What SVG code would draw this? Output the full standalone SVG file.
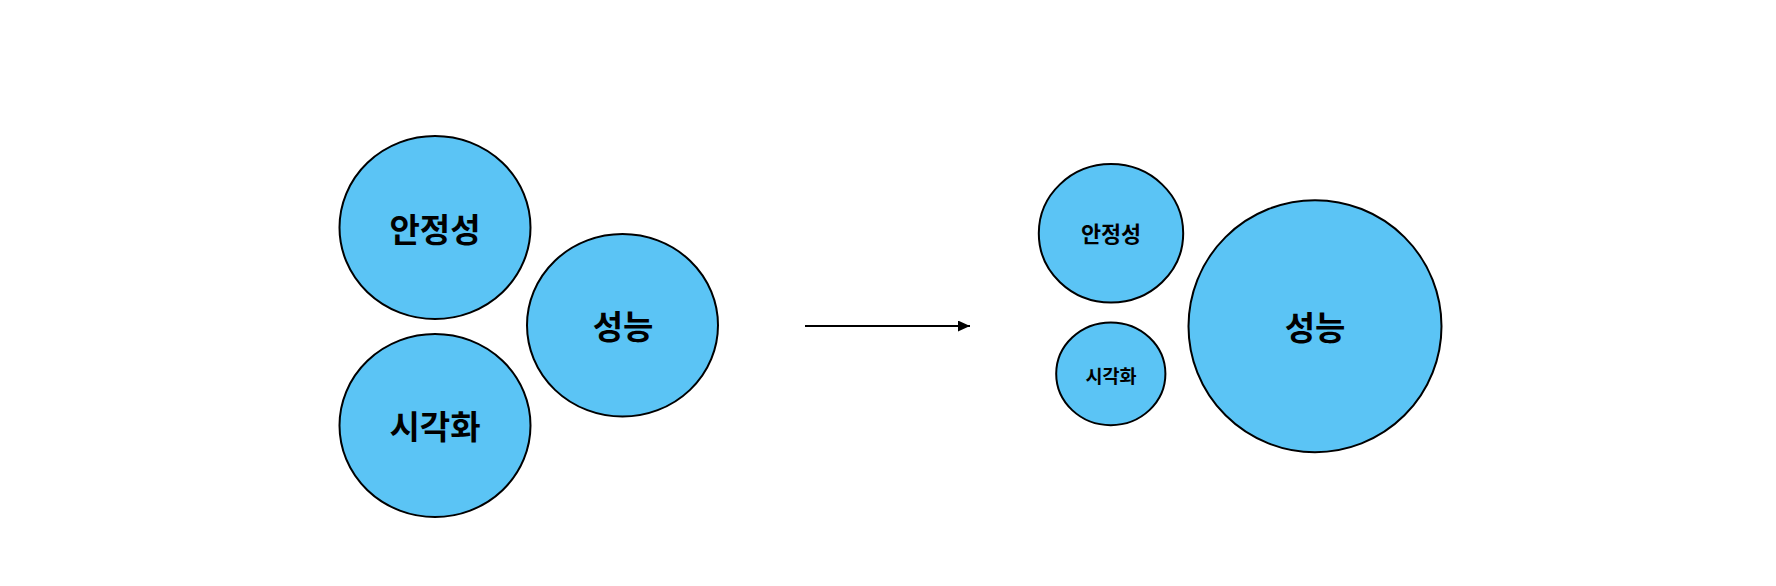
<svg xmlns="http://www.w3.org/2000/svg" width="1776" height="586" viewBox="0 0 1776 586">
<style>
.n{fill:#5BC4F5;stroke:#000;stroke-width:2}
.t{font-family:"Noto Sans CJK KR","Noto Sans",sans-serif;font-weight:bold;fill:#000;text-anchor:middle;dominant-baseline:central}
.c{stroke:#000;stroke-width:2;fill:none}
</style>
<defs>
<marker id="ah" viewBox="0 0 12 11" refX="12" refY="5.5" markerWidth="12" markerHeight="11" markerUnits="userSpaceOnUse" orient="auto">
<path d="M0,0 L12,5.5 L0,11 Z" fill="#000"/>
</marker>
</defs>
<rect width="1776" height="586" fill="#fff"/>
<g id="left-stability">
<ellipse class="n" cx="435" cy="227.5" rx="95.5" ry="91.5"/>
<text class="t" x="435" y="227.5" font-size="33">안정성</text>
</g>
<g id="left-visualization">
<ellipse class="n" cx="435" cy="425.5" rx="95.5" ry="91.5"/>
<text class="t" x="435" y="425" font-size="33">시각화</text>
</g>
<g id="left-performance">
<ellipse class="n" cx="622.5" cy="325.3" rx="95.5" ry="91.3"/>
<text class="t" x="623" y="325" font-size="33">성능</text>
</g>
<g id="connectors">
<line class="c" x1="805" y1="326" x2="970" y2="326" marker-end="url(#ah)"/>
</g>
<g id="right-stability">
<ellipse class="n" cx="1111" cy="233.3" rx="72.2" ry="69.2"/>
<text class="t" x="1111" y="232" font-size="21.8">안정성</text>
</g>
<g id="right-visualization">
<ellipse class="n" cx="1110.8" cy="373.8" rx="54.6" ry="51.4"/>
<text class="t" x="1111" y="374.5" font-size="18.5">시각화</text>
</g>
<g id="right-performance">
<ellipse class="n" cx="1315" cy="326.2" rx="126.5" ry="126"/>
<text class="t" x="1315" y="326" font-size="33">성능</text>
</g>
</svg>
